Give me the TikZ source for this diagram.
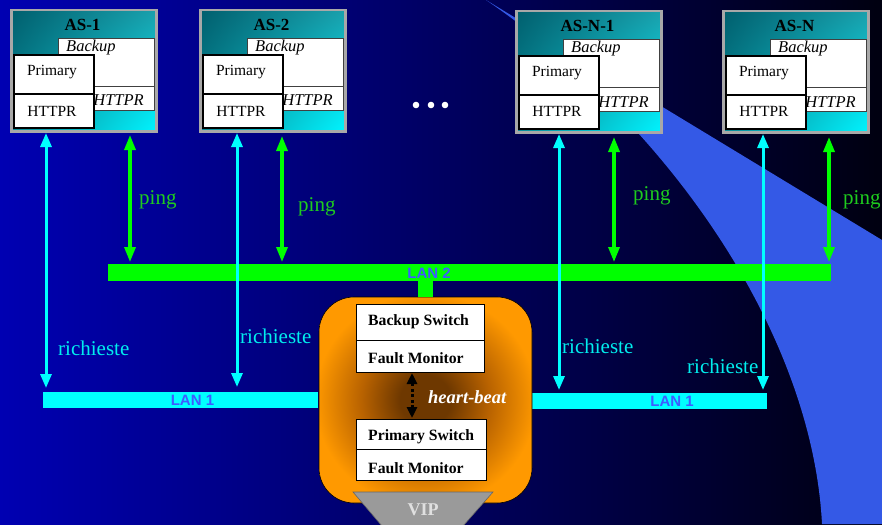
\documentclass[tikz,border=0pt]{standalone}
\usepackage{fontspec}
\setmainfont{Liberation Serif}
\setsansfont{Liberation Sans}
\usetikzlibrary{arrows.meta,shadings}
\definecolor{bgL}{HTML}{0000B2}
\definecolor{bgR}{HTML}{000010}
\definecolor{swooshc}{HTML}{3459E6}
\definecolor{framegray}{HTML}{A8A8A8}
\definecolor{tealA}{HTML}{005F6E}
\definecolor{tealB}{HTML}{1AA0AC}
\definecolor{tealC}{HTML}{0A8C98}
\definecolor{tealD}{HTML}{00F4FF}
\definecolor{lcyan}{HTML}{00FFFF}
\definecolor{lgreen}{HTML}{00FF00}
\definecolor{pingc}{HTML}{1ECC1E}
\definecolor{richc}{HTML}{00EEEE}
\definecolor{lanlab}{HTML}{3D5CFF}
\definecolor{orangeO}{HTML}{FF9900}
\definecolor{orangeM}{HTML}{B86200}
\definecolor{orangeI}{HTML}{6E3800}
\definecolor{vipgray}{HTML}{9A9A9A}
\pgfdeclareradialshading{swshade}{\pgfpoint{0bp}{0bp}}{color(0bp)=(orangeI); color(6bp)=(orangeI); color(15bp)=(orangeM); color(26bp)=(orangeO); color(50bp)=(orangeO)}
\tikzset{
  asframe/.style={draw=framegray, line width=2.5pt, minimum width=145pt, minimum height=121pt,
    inner sep=0pt, anchor=north west, upper left=tealA, upper right=tealB, lower left=tealC, lower right=tealD},
  bkbox/.style={draw=black!75, line width=0.8pt, fill=white, inner sep=0pt, anchor=north west,
    minimum width=96pt, minimum height=72pt},
  prbox/.style={draw=black, line width=1.8pt, fill=white, inner sep=0pt, anchor=north west,
    minimum width=80pt, minimum height=73pt},
  astitle/.style={font=\fontsize{17}{20}\selectfont\bfseries, inner sep=0pt, anchor=base},
  astext/.style={font=\fontsize{15.5}{18}\selectfont, inner sep=0pt, anchor=base},
  asital/.style={font=\fontsize{16.5}{19}\selectfont\itshape, inner sep=0pt},
  pinglab/.style={font=\fontsize{21}{24}\selectfont, text=pingc, inner sep=0pt, anchor=base west},
  richlab/.style={font=\fontsize{21}{24}\selectfont, text=richc, inner sep=0pt, anchor=base west},
  lanlabel/.style={font=\fontsize{15}{18}\selectfont\sffamily\bfseries, text=lanlab, inner sep=0pt},
  lan2bar/.style={fill=lgreen, inner sep=0pt, minimum height=17pt},
  lan1bar/.style={fill=lcyan, inner sep=0pt, minimum height=16pt},
  cyarrow/.style={draw=lcyan, line width=3pt, {Triangle[length=14pt,width=11pt]}-{Triangle[length=14pt,width=11pt]}},
  grarrow/.style={draw=lgreen, line width=3.2pt, {Triangle[length=15pt,width=11pt]}-{Triangle[length=15pt,width=11pt]}},
  swbox/.style={draw=black, line width=0.8pt, fill=white, inner sep=0pt, anchor=north west},
  swtext/.style={font=\fontsize{15.7}{18}\selectfont\bfseries, inner sep=0pt, anchor=base west},
  hbarrow/.style={draw=black, line width=3pt, dash pattern=on 3pt off 2.5pt,
    {Triangle[length=11pt,width=10pt]}-{Triangle[length=11pt,width=10pt]}},
}
\newcommand\asunit[4]{%
  \node[asframe] (#1) at (#2,#3) {};
  \node[astitle] (#1-t) at ({#2+72.5},{#3+22}) {#4};
  \node[bkbox] (#1-bk) at ({#2+48},{#3+29}) {};
  \draw[draw=black!75, line width=0.8pt] ({#2+48},{#3+77}) -- ({#2+144},{#3+77});
  \node[asital, anchor=base west] (#1-bkl) at ({#2+56},{#3+43}) {Backup};
  \node[asital, anchor=base east] (#1-bkh) at ({#2+134},{#3+97}) {HTTPR};
  \node[prbox] (#1-pr) at ({#2+3},{#3+45}) {};
  \draw[black, line width=1.8pt] ({#2+3},{#3+85}) -- ({#2+83},{#3+85});
  \node[astext] (#1-p1) at ({#2+42},{#3+67}) {Primary};
  \node[astext] (#1-p2) at ({#2+42},{#3+107}) {HTTPR};
}
\begin{document}
\begin{tikzpicture}[x=1pt,y=-1pt]
\useasboundingbox (0,0) rectangle (882,524);
% background
\shade[left color=bgL, right color=bgR] (0,0) rectangle (882,524);
% swoosh
\fill[swooshc] (486,0) -- (882,240) -- (882,524) -- (822,524)
  .. controls (812,330) and (665,122) .. (486,0) -- cycle;
% application servers
\asunit{as1}{10}{9}{AS-1}
\asunit{as2}{199}{9}{AS-2}
\asunit{asn1}{515}{10}{AS-N-1}
\asunit{asn}{722}{10}{AS-N}
% dots
\fill[white] (416,105) circle (3.3pt);
\fill[white] (431,105) circle (3.3pt);
\fill[white] (445,105) circle (3.3pt);
% LANs
\node[lan2bar, minimum width=723pt] (lan2) at (469.5,272.5) {};
\node[lanlabel] (lan2l) at (429,273) {LAN 2};
\node[lan1bar, minimum width=275pt] (lan1a) at (180.5,400) {};
\node[lanlabel] (lan1al) at (192.5,400.5) {LAN 1};
\node[lan1bar, minimum width=235pt] (lan1b) at (649.5,401) {};
\node[lanlabel] (lan1bl) at (672,401.5) {LAN 1};
% switch block
\node[draw=black, line width=0.6pt, rounded corners=35pt, minimum width=213pt, minimum height=206pt,
  inner sep=0pt, shading=swshade] (sw) at (425.5,400) {};
\draw[lgreen, line width=15pt] (lan2.south -| sw.north) -- (sw.north);
\node[swbox, minimum width=128pt, minimum height=68pt] (bsw) at (356,304) {};
\draw[black, line width=0.8pt] (356,340) -- (484,340);
\node[swtext] (bswt) at (368,325) {Backup Switch};
\node[swtext] (bfm) at (368,363) {Fault Monitor};
\node[swbox, minimum width=130pt, minimum height=61pt] (psw) at (356,419) {};
\draw[black, line width=0.8pt] (356,449) -- (486,449);
\node[swtext] (pswt) at (368,440) {Primary Switch};
\node[swtext] (pfm) at (368,473) {Fault Monitor};
\coordinate (hbt) at (412,373);
\coordinate (hbb) at (412,418);
\draw[hbarrow] (hbt) -- (hbb);
\node[font=\fontsize{18.5}{21}\selectfont\bfseries\itshape, text=white, inner sep=0pt, anchor=base west] (hbl) at (428,403) {heart-beat};
% VIP
\filldraw[fill=vipgray, draw=black!60, line width=0.6pt] (353,492) -- (493,492) -- (463,526) -- (382,526) -- cycle;
\node[font=\fontsize{18}{21}\selectfont\bfseries, text=white!88!black, inner sep=0pt, anchor=base] (vip) at (423,515) {VIP};
% ping arrows
\coordinate (g1t) at (130,135); \coordinate (g1b) at (130,262);
\coordinate (g2t) at (282,136); \coordinate (g2b) at (282,262);
\coordinate (g3t) at (614,137); \coordinate (g3b) at (614,262);
\coordinate (g4t) at (829,137); \coordinate (g4b) at (829,262);
\draw[grarrow] (g1t) -- (g1b);
\draw[grarrow] (g2t) -- (g2b);
\draw[grarrow] (g3t) -- (g3b);
\draw[grarrow] (g4t) -- (g4b);
\node[pinglab] (p1) at (139,204) {ping};
\node[pinglab] (p2) at (298,211) {ping};
\node[pinglab] (p3) at (633,200) {ping};
\node[pinglab] (p4) at (843,204) {ping};
% request arrows
\coordinate (c1t) at (46,133); \coordinate (c1b) at (46,388);
\coordinate (c2t) at (237,133); \coordinate (c2b) at (237,387);
\coordinate (c3t) at (559,134); \coordinate (c3b) at (559,390);
\coordinate (c4t) at (763,134); \coordinate (c4b) at (763,390);
\draw[cyarrow] (c1t) -- (c1b);
\draw[cyarrow] (c2t) -- (c2b);
\draw[cyarrow] (c3t) -- (c3b);
\draw[cyarrow] (c4t) -- (c4b);
\node[richlab] (r1) at (58,355) {richieste};
\node[richlab] (r2) at (240,343) {richieste};
\node[richlab] (r3) at (562,353) {richieste};
\node[richlab] (r4) at (687,373) {richieste};
\end{tikzpicture}
\end{document}
